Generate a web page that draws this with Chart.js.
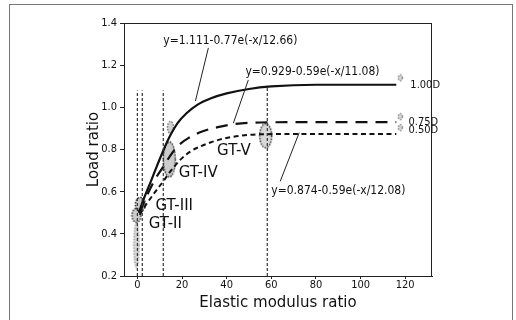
<!DOCTYPE html>
<html>
<head>
<meta charset="utf-8">
<script src="https://cdn.jsdelivr.net/npm/chart.js@4.4.1/dist/chart.umd.min.js"></script>
<style>
  html, body { margin: 0; padding: 0; background: #fff; }
  #frame { position: absolute; left: 9px; top: 4px; width: 502px; height: 330px; border: 1px solid #777; }
  #wrap { position: absolute; left: 0; top: 0; width: 516px; height: 320px; }
</style>
</head>
<body>
<div id="frame"></div>
<div id="wrap"><canvas id="chart" width="516" height="320"></canvas></div>
<script>
// tick labels
const xTicks = [0, 20, 40, 60, 80, 100, 120];

// 1.00D fitted curve
const solidX = [0.6, 3, 6, 9, 12, 15, 18, 22, 27, 33, 40, 50, 60, 80, 116];
const solidY = [0.50, 0.57, 0.648, 0.728, 0.805, 0.872, 0.925, 0.972, 1.013, 1.043, 1.066, 1.087, 1.099, 1.107, 1.107];

// 0.75D fitted curve
const longX = [1, 4, 8, 12, 15, 18.5, 23, 29, 36, 43, 55, 80, 116];
const longY = [0.50, 0.575, 0.66, 0.725, 0.775, 0.82, 0.855, 0.885, 0.906, 0.92, 0.928, 0.93, 0.93];

// 0.50D fitted curve
const shortX = [1, 4, 7, 9.5, 12, 14, 17, 19.3, 23.7, 32.7, 41.6, 55, 80, 116];
const shortY = [0.49, 0.54, 0.585, 0.62, 0.655, 0.685, 0.725, 0.752, 0.79, 0.833, 0.858, 0.872, 0.874, 0.874];

// vertical dashed guide lines (x, top)
const guideX = [0, 2.2, 11.6, 58.2];
const guideTop = [1.08, 1.08, 1.08, 1.102];

// test result clusters and end marks
const markerX = [-0.4, -0.4, 1.3, 14.3, 14.8, 57.5, 117.8, 117.8, 117.8];
const markerY = [0.346, 0.488, 0.54, 0.753, 0.905, 0.865, 1.14, 0.956, 0.904];

// leader lines from equations to curves
const leaderX = [[31.8, 26], [49.7, 43], [72.5, 64]];
const leaderY = [[1.282, 1.03], [1.13, 0.925], [0.88, 0.649]];

// text labels
const labelText = ["y=1.111-0.77e(-x/12.66)", "y=0.929-0.59e(-x/11.08)", "y=0.874-0.59e(-x/12.08)",
  "GT-V", "GT-IV", "GT-III", "GT-II", "1.00D", "0.75D", "0.50D"];
const labelX = [11.6, 48.4, 60, 35.7, 18.5, 8.1, 5.1, 122.3, 121.5, 121.5];
const labelY = [1.315, 1.168, 0.606, 0.79, 0.687, 0.532, 0.446, 1.107, 0.932, 0.892];

const condensed = "'DejaVu Sans Condensed', 'Liberation Sans Narrow', 'DejaVu Sans', sans-serif";
const labelFonts = ["12px " + condensed, "12px " + condensed, "12px " + condensed,
  "15px 'DejaVu Sans'", "15px 'DejaVu Sans'", "15px 'DejaVu Sans'", "15px 'DejaVu Sans'",
  "11px " + condensed, "11px " + condensed, "11px " + condensed];

function pts(xs, ys) {
  return xs.map((x, i) => ({ x: x, y: ys[i] }));
}

// dotted ellipse used as a point marker
function ellipse(w, h, stroke, fill) {
  const c = document.createElement("canvas");
  c.width = w + 3;
  c.height = h + 3;
  const g = c.getContext("2d");
  g.fillStyle = fill;
  g.strokeStyle = stroke;
  g.lineWidth = 1.4;
  g.setLineDash([1.5, 1.3]);
  g.beginPath();
  g.ellipse(c.width / 2, c.height / 2, w / 2, h / 2, 0, 0, Math.PI * 2);
  g.fill();
  g.stroke();
  return c;
}

const markerStyles = [
  ellipse(5, 45, "#999", "rgba(190,190,190,0.6)"),
  ellipse(9, 14, "#222", "rgba(170,170,170,0.6)"),
  ellipse(10, 14, "#222", "rgba(170,170,170,0.6)"),
  ellipse(12, 35, "#222", "rgba(170,170,170,0.6)"),
  ellipse(6, 12, "#777", "rgba(190,190,190,0.7)"),
  ellipse(12, 24, "#222", "rgba(180,180,180,0.5)"),
  ellipse(4, 6, "#888", "rgba(200,200,200,0.7)"),
  ellipse(4, 6, "#888", "rgba(200,200,200,0.7)"),
  ellipse(4, 6, "#888", "rgba(200,200,200,0.7)"),
];

const datasets = [];

guideX.forEach((gx, i) => {
  datasets.push({
    data: [{ x: gx, y: 0.2 }, { x: gx, y: guideTop[i] }],
    showLine: true, borderColor: "#333", borderWidth: 1.2, borderDash: [3, 2], pointRadius: 0,
  });
});

leaderX.forEach((lx, i) => {
  datasets.push({
    data: pts(lx, leaderY[i]),
    showLine: true, borderColor: "#222", borderWidth: 1, pointRadius: 0,
  });
});

datasets.push({
  data: pts(solidX, solidY), showLine: true, borderColor: "#111", borderWidth: 2.2,
  pointRadius: 0, cubicInterpolationMode: "monotone",
});
datasets.push({
  data: pts(longX, longY), showLine: true, borderColor: "#111", borderWidth: 2.2,
  borderDash: [12, 8], pointRadius: 0, cubicInterpolationMode: "monotone",
});
datasets.push({
  data: pts(shortX, shortY), showLine: true, borderColor: "#111", borderWidth: 2,
  borderDash: [5, 3.5], pointRadius: 0, cubicInterpolationMode: "monotone",
});
datasets.push({
  data: pts(markerX, markerY), showLine: false, pointRadius: 3, pointStyle: markerStyles,
});

const annotate = {
  id: "annotate",
  afterDatasetsDraw(chart) {
    const { ctx, chartArea: a, scales } = chart;
    ctx.save();
    ctx.strokeStyle = "#222";
    ctx.lineWidth = 1;
    ctx.strokeRect(a.left + 0.5, a.top + 0.5, a.right - a.left - 1, a.bottom - a.top);
    ctx.fillStyle = "#111";
    ctx.textAlign = "left";
    ctx.textBaseline = "middle";
    labelText.forEach((t, i) => {
      ctx.font = labelFonts[i];
      ctx.fillText(t, scales.x.getPixelForValue(labelX[i]), scales.y.getPixelForValue(labelY[i]));
    });
    ctx.restore();
  },
};

new Chart(document.getElementById("chart"), {
  type: "scatter",
  data: { datasets: datasets },
  plugins: [annotate],
  options: {
    responsive: false,
    animation: false,
    layout: { padding: { left: 0, top: 23, right: 84, bottom: 0 } },
    plugins: { legend: { display: false }, tooltip: { enabled: false } },
    scales: {
      x: {
        type: "linear",
        min: -6,
        max: 132,
        afterBuildTicks: (s) => { s.ticks = xTicks.map((v) => ({ value: v })); },
        afterFit: (s) => { s.height = 44; },
        border: { color: "#222", width: 1 },
        grid: { drawOnChartArea: false, drawTicks: true, tickLength: 3, color: "#222" },
        ticks: { color: "#111", padding: 0, font: { family: condensed, size: 11 } },
        title: {
          display: true, text: "Elastic modulus ratio", color: "#111",
          font: { family: "'DejaVu Sans'", size: 15 }, padding: { top: 0, bottom: 8 },
        },
      },
      y: {
        min: 0.2,
        max: 1.4,
        afterFit: (s) => { s.width = 124; },
        border: { color: "#222", width: 1 },
        grid: { drawOnChartArea: false, drawTicks: true, tickLength: 4, color: "#222" },
        ticks: {
          stepSize: 0.2, color: "#111", padding: 3,
          font: { family: condensed, size: 11 },
          callback: (v) => v.toFixed(1),
        },
        title: {
          display: true, text: "Load ratio", color: "#111",
          font: { family: "'DejaVu Sans'", size: 15 }, padding: { top: 85, bottom: 0 },
        },
      },
    },
  },
});
</script>
</body>
</html>
